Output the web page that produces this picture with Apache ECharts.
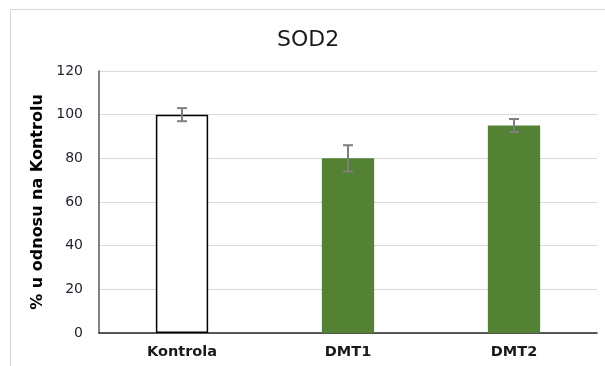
<!DOCTYPE html>
<html>
<head>
<meta charset="utf-8">
<script src="https://cdn.jsdelivr.net/npm/echarts@6/dist/echarts.min.js"></script>
<style>
  html, body { margin: 0; padding: 0; background: #fff; }
  #chart { width: 605px; height: 366px; }
</style>
</head>
<body>
<div id="chart"></div>
<script>
// SOD2 expression relative to control (%), mean ± error
const categories = ['Kontrola', 'DMT1', 'DMT2'];
const means = [100, 80, 95];
const errors = [3, 6, 3];
const yTicks = [0, 20, 40, 60, 80, 100, 120];

const FONT = "'DejaVu Sans', Verdana, sans-serif";
const barColors = ['#ffffff', '#548235', '#548235'];
const barBorders = ['#000000', '#548235', '#548235'];

const barData = means.map((v, i) => ({
  value: v,
  itemStyle: {
    color: barColors[i],
    borderColor: barBorders[i],
    borderWidth: i === 0 ? 1.5 : 0
  }
}));
const errData = means.map((v, i) => [i, v - errors[i], v + errors[i]]);

const chart = echarts.init(document.getElementById('chart'), null, { renderer: 'canvas' });
chart.setOption({
  animation: false,
  backgroundColor: '#ffffff',
  title: {
    text: 'SOD2',
    left: 277,
    top: 29,
    padding: 0,
    textStyle: { fontFamily: FONT, fontSize: 22, fontWeight: 'normal', color: '#1a1a1a' }
  },
  graphic: [
    {
      type: 'rect',
      shape: { x: 10.5, y: 9.5, width: 700, height: 500 },
      style: { fill: 'none', stroke: '#d9d9d9', lineWidth: 1 },
      silent: true
    }
  ],
  grid: { left: 99, right: 8, top: 71, bottom: 33, containLabel: false },
  xAxis: {
    type: 'category',
    data: categories,
    axisLine: { lineStyle: { color: '#262626', width: 1.5 } },
    axisTick: { show: false },
    axisLabel: { margin: 12, fontFamily: FONT, fontSize: 14.5, fontWeight: 'bold', color: '#1a1a1a' }
  },
  yAxis: {
    type: 'value',
    min: yTicks[0],
    max: yTicks[yTicks.length - 1],
    interval: yTicks[1] - yTicks[0],
    name: '% u odnosu na Kontrolu',
    nameLocation: 'middle',
    nameGap: 45,
    nameTextStyle: { fontFamily: FONT, fontSize: 16, fontWeight: 'bold', color: '#000' },
    axisLine: { show: true, lineStyle: { color: '#595959', width: 1.5 } },
    axisTick: { show: false },
    splitLine: { lineStyle: { color: '#d9d9d9', width: 1.2 } },
    axisLabel: { margin: 16, fontFamily: FONT, fontSize: 14, color: '#1f1f2e' }
  },
  series: [
    {
      type: 'bar',
      data: barData,
      barWidth: '31.5%',
      z: 2
    },
    {
      type: 'custom',
      z: 5,
      data: errData,
      renderItem: function (params, api) {
        const x = api.value(0);
        const lo = api.coord([x, api.value(1)]);
        const hi = api.coord([x, api.value(2)]);
        const half = 5;
        const style = { stroke: '#7f7f7f', lineWidth: 2 };
        return {
          type: 'group',
          children: [
            { type: 'line', shape: { x1: hi[0], y1: hi[1], x2: lo[0], y2: lo[1] }, style },
            { type: 'line', shape: { x1: hi[0] - half, y1: hi[1], x2: hi[0] + half, y2: hi[1] }, style },
            { type: 'line', shape: { x1: lo[0] - half, y1: lo[1], x2: lo[0] + half, y2: lo[1] }, style }
          ]
        };
      }
    }
  ]
});
</script>
</body>
</html>
